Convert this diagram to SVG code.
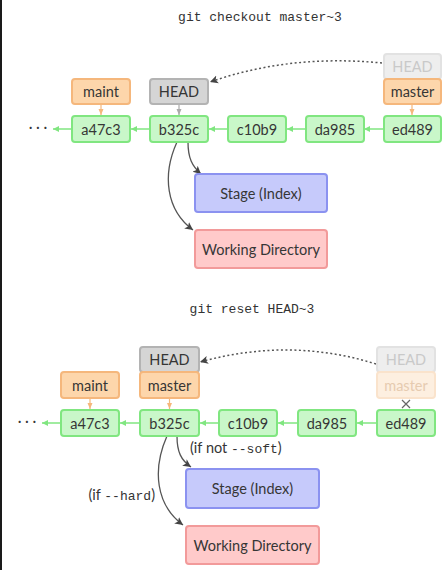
<svg xmlns="http://www.w3.org/2000/svg" width="442" height="570" viewBox="0 0 442 570">
<defs>
<style>
.t{font-family:Lato,"Liberation Sans",sans-serif;font-size:14.5px;fill:#363636;text-anchor:middle}
.m{font-family:"Liberation Mono","DejaVu Sans Mono",monospace;font-size:13px;fill:#333}
.c{fill:#c9f7c9;stroke:#80e680;stroke-width:2}
.b{fill:#fdd6ab;stroke:#f5b77c;stroke-width:2}
.h{fill:#d5d5d5;stroke:#b3b3b3;stroke-width:2}
.fh{fill:#eeeeee;stroke:#e2e2e2;stroke-width:2}
.fb{fill:#fdefe0;stroke:#fae3cc;stroke-width:2}
.s{fill:#c6cafb;stroke:#8b92f0;stroke-width:2}
.w{fill:#ffcaca;stroke:#f29a9a;stroke-width:2}
.ga{stroke:#80e680;stroke-width:1.5;fill:none;marker-end:url(#ag)}
.oa{stroke:#f5b77c;stroke-width:1.2;fill:none;marker-end:url(#ao)}
.ha{stroke:#aaaaaa;stroke-width:1.2;fill:none;marker-end:url(#ah)}
.da{stroke:#555;stroke-width:1.5;fill:none;stroke-dasharray:2 2.5;marker-end:url(#ad)}
.ka{stroke:#555;stroke-width:1.3;fill:none;marker-end:url(#ad)}
</style>
<marker id="ag" markerWidth="8" markerHeight="8" refX="6" refY="4" orient="auto" markerUnits="userSpaceOnUse"><path d="M0,1 L6,4 L0,7 Z" fill="#80e680"/></marker>
<marker id="ao" markerWidth="8" markerHeight="8" refX="6" refY="4" orient="auto" markerUnits="userSpaceOnUse"><path d="M0,1.5 L6,4 L0,6.5 Z" fill="#f5b77c"/></marker>
<marker id="ah" markerWidth="8" markerHeight="8" refX="6" refY="4" orient="auto" markerUnits="userSpaceOnUse"><path d="M0,1.5 L6,4 L0,6.5 Z" fill="#aaaaaa"/></marker>
<marker id="ad" markerWidth="10" markerHeight="10" refX="8" refY="5" orient="auto" markerUnits="userSpaceOnUse"><path d="M0,1 L8,5 L0,9 L2,5 Z" fill="#444"/></marker>
</defs>
<rect x="0" y="0" width="442" height="570" fill="#ffffff"/>
<rect x="0" y="0" width="2" height="570" fill="#1a1a1a"/>

<text class="m" x="260" y="21" text-anchor="middle">git checkout master~3</text>
<text class="m" x="252" y="313" text-anchor="middle">git reset HEAD~3</text>

<g id="connectors">
<path class="ga" d="M72,129 L53,129"/>
<path class="ga" d="M150,129 L131,129"/>
<path class="ga" d="M228,129 L209,129"/>
<path class="ga" d="M306,129 L287,129"/>
<path class="ga" d="M383,129 L364,129"/>
<path class="oa" d="M101,104 L101,115"/>
<path class="ha" d="M179,104 L179,115"/>
<path class="oa" d="M412,104 L412,115"/>
<path class="da" d="M382,63 Q290,54 210,82"/>
<path class="ka" d="M188,142 C188,158 192,166 201,174"/>
<path class="ka" d="M177,142 C162,175 166,210 193,230"/>
<path class="ga" d="M61,423 L42,423"/>
<path class="ga" d="M140,423 L120,423"/>
<path class="ga" d="M219,423 L200,423"/>
<path class="ga" d="M298,423 L278,423"/>
<path class="ga" d="M377,423 L357,423"/>
<path class="oa" d="M90,398 L90,409"/>
<path class="oa" d="M169.5,398 L169.5,409"/>
<path d="M402,400 L410,408 M410,400 L402,408" stroke="#666" stroke-width="1.2"/>
<path class="da" d="M376,364 Q290,337 200,362"/>
<path class="ka" d="M177,436 C177,452 181,460 191,467"/>
<path class="ka" d="M167,436 C152,470 156,505 183,525"/>
</g>

<text class="t" x="38" y="132">· · ·</text>
<text class="t" x="27" y="426">· · ·</text>

<g id="top-faded-head"><rect class="fh" x="384" y="54" width="57" height="25" rx="3"/><text class="t" x="412.5" y="72" style="fill:#c9c9c9">HEAD</text></g>
<g id="top-master"><rect class="b" x="384" y="79" width="57" height="25" rx="3"/><text class="t" x="412.5" y="97">master</text></g>
<g id="top-maint"><rect class="b" x="72" y="79" width="58" height="25" rx="3"/><text class="t" x="101" y="97">maint</text></g>
<g id="top-head"><rect class="h" x="150" y="79" width="58" height="25" rx="3"/><text class="t" x="179" y="97">HEAD</text></g>

<g id="top-a47c3"><rect class="c" x="72" y="116" width="58" height="26" rx="3"/><text class="t" x="101" y="134.5">a47c3</text></g>
<g id="top-b325c"><rect class="c" x="150" y="116" width="58" height="26" rx="3"/><text class="t" x="179" y="134.5">b325c</text></g>
<g id="top-c10b9"><rect class="c" x="228" y="116" width="58" height="26" rx="3"/><text class="t" x="257" y="134.5">c10b9</text></g>
<g id="top-da985"><rect class="c" x="306" y="116" width="58" height="26" rx="3"/><text class="t" x="335" y="134.5">da985</text></g>
<g id="top-ed489"><rect class="c" x="384" y="116" width="57" height="26" rx="3"/><text class="t" x="412.5" y="134.5">ed489</text></g>

<g id="top-stage"><rect class="s" x="195" y="174" width="132" height="38" rx="3"/><text class="t" x="261" y="198.5">Stage (Index)</text></g>
<g id="top-wd"><rect class="w" x="195" y="230" width="132" height="38" rx="3"/><text class="t" x="261" y="254.5">Working Directory</text></g>

<g id="bot-head"><rect class="h" x="140" y="347" width="59" height="25" rx="3"/><text class="t" x="169.5" y="365">HEAD</text></g>
<g id="bot-master"><rect class="b" x="140" y="372" width="59" height="26" rx="3"/><text class="t" x="169.5" y="390.5">master</text></g>
<g id="bot-maint"><rect class="b" x="61" y="372" width="58" height="26" rx="3"/><text class="t" x="90" y="390.5">maint</text></g>
<g id="bot-faded-head"><rect class="fh" x="377" y="347" width="58" height="25" rx="3"/><text class="t" x="406" y="365" style="fill:#c9c9c9">HEAD</text></g>
<g id="bot-faded-master"><rect class="fb" x="377" y="372" width="58" height="26" rx="3"/><text class="t" x="406" y="390.5" style="fill:#e6cbb0">master</text></g>

<g id="bot-a47c3"><rect class="c" x="61" y="410" width="58" height="26" rx="3"/><text class="t" x="90" y="428.5">a47c3</text></g>
<g id="bot-b325c"><rect class="c" x="140" y="410" width="59" height="26" rx="3"/><text class="t" x="169.5" y="428.5">b325c</text></g>
<g id="bot-c10b9"><rect class="c" x="219" y="410" width="58" height="26" rx="3"/><text class="t" x="248" y="428.5">c10b9</text></g>
<g id="bot-da985"><rect class="c" x="298" y="410" width="58" height="26" rx="3"/><text class="t" x="327" y="428.5">da985</text></g>
<g id="bot-ed489"><rect class="c" x="377" y="410" width="58" height="26" rx="3"/><text class="t" x="406" y="428.5">ed489</text></g>

<g id="bot-stage"><rect class="s" x="186" y="469" width="133" height="39" rx="3"/><text class="t" x="252.5" y="493.5">Stage (Index)</text></g>
<g id="bot-wd"><rect class="w" x="186" y="526" width="133" height="38" rx="3"/><text class="t" x="252.5" y="550.5">Working Directory</text></g>

<text class="t" x="190" y="453" style="text-anchor:start">(if not <tspan class="m">--soft</tspan>)</text>
<text class="t" x="155" y="500" style="text-anchor:end">(if <tspan class="m">--hard</tspan>)</text>
</svg>
